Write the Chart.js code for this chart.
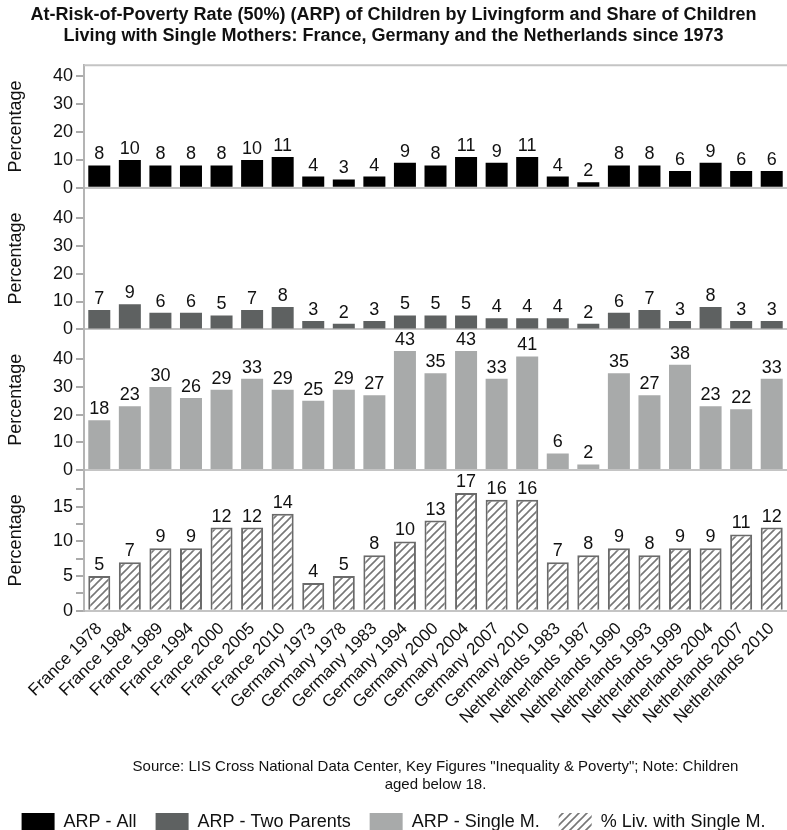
<!DOCTYPE html>
<html>
<head>
<meta charset="utf-8">
<script src="https://cdn.jsdelivr.net/npm/chart.js@4.4.1/dist/chart.umd.min.js"></script>
<style>
  body { margin: 0; background: #fff; }
  #wrap { width: 787px; height: 830px; }
</style>
</head>
<body>
<div id="wrap"><canvas id="myChart"></canvas></div>
<script>
'use strict';

const categories = [
  'France 1978', 'France 1984', 'France 1989', 'France 1994', 'France 2000', 'France 2005', 'France 2010',
  'Germany 1973', 'Germany 1978', 'Germany 1983', 'Germany 1994', 'Germany 2000', 'Germany 2004', 'Germany 2007', 'Germany 2010',
  'Netherlands 1983', 'Netherlands 1987', 'Netherlands 1990', 'Netherlands 1993', 'Netherlands 1999', 'Netherlands 2004', 'Netherlands 2007', 'Netherlands 2010'
];
const arpAll = [8, 10, 8, 8, 8, 10, 11, 4, 3, 4, 9, 8, 11, 9, 11, 4, 2, 8, 8, 6, 9, 6, 6];
const arpTwoParents = [7, 9, 6, 6, 5, 7, 8, 3, 2, 3, 5, 5, 5, 4, 4, 4, 2, 6, 7, 3, 8, 3, 3];
const arpSingleM = [18, 23, 30, 26, 29, 33, 29, 25, 29, 27, 43, 35, 43, 33, 41, 6, 2, 35, 27, 38, 23, 22, 33];
const shareSingleM = [5, 7, 9, 9, 12, 12, 14, 4, 5, 8, 10, 13, 17, 16, 16, 7, 8, 9, 8, 9, 9, 11, 12];
const arpTicks = [0, 10, 20, 30, 40];
const shareTicks = [0, 5, 10, 15];
const shareMinorTicks = [2.5, 7.5, 12.5, 17.5];

const fam = '"Liberation Sans", Arial, sans-serif';
const font = { family: fam, size: 18 };

function hatch() {
  const n = 8;
  const c = document.createElement('canvas');
  c.width = n;
  c.height = n;
  const g = c.getContext('2d');
  g.fillStyle = '#fff';
  g.fillRect(0, 0, n, n);
  g.strokeStyle = '#777';
  g.lineWidth = 1.6;
  g.beginPath();
  g.moveTo(0, n); g.lineTo(n, 0);
  g.moveTo(-1, 1); g.lineTo(1, -1);
  g.moveTo(n - 1, n + 1); g.lineTo(n + 1, n - 1);
  g.stroke();
  return g.createPattern(c, 'repeat');
}

function yAxis(max, weight, stackWeight, ticks, minor) {
  return {
    type: 'linear',
    position: 'left',
    stack: 'panels',
    stackWeight: stackWeight,
    weight: weight,
    min: 0,
    max: max,
    afterBuildTicks: s => { s.ticks = ticks.concat(minor || []).map(v => ({ value: v })); },
    afterFit: s => { s.width = 84; },
    ticks: {
      font: font, color: '#111', padding: 3, autoSkip: false,
      callback: v => ticks.includes(v) ? v : ''
    },
    grid: {
      drawOnChartArea: true,
      color: c => (c.tick && c.tick.value === 0) ? '#c4c4c4' : 'rgba(0,0,0,0)',
      tickColor: '#aaa',
      tickLength: 8,
      lineWidth: 2
    },
    border: { display: true, color: '#b4b4b4', width: 2 },
    title: { display: true, text: 'Percentage', font: font, color: '#111', padding: { top: 5, bottom: 0 } }
  };
}

// value above every bar
const valueLabels = {
  id: 'valueLabels',
  afterDatasetsDraw(chart) {
    const ctx = chart.ctx;
    ctx.save();
    ctx.font = '18px ' + fam;
    ctx.fillStyle = '#111';
    ctx.textAlign = 'center';
    ctx.textBaseline = 'bottom';
    chart.data.datasets.forEach((ds, i) => {
      chart.getDatasetMeta(i).data.forEach((bar, j) => {
        ctx.fillText(ds.data[j], bar.x, bar.y - 2);
      });
    });
    ctx.restore();
  }
};

const topLine = {
  id: 'topLine',
  beforeDatasetsDraw(chart) {
    const a = chart.chartArea;
    const ctx = chart.ctx;
    ctx.save();
    ctx.strokeStyle = '#c4c4c4';
    ctx.lineWidth = 2;
    ctx.beginPath();
    ctx.moveTo(a.left, a.top);
    ctx.lineTo(a.right, a.top);
    ctx.stroke();
    ctx.restore();
  }
};

const common = { grouped: false, barPercentage: 0.72, categoryPercentage: 1 };

const ctx = document.getElementById('myChart').getContext('2d');
const chart = new Chart(ctx, {
  type: 'bar',
  data: {
    labels: categories,
    datasets: [
      Object.assign({ label: 'ARP - All', data: arpAll, yAxisID: 'yAll', backgroundColor: '#000' }, common),
      Object.assign({ label: 'ARP - Two Parents', data: arpTwoParents, yAxisID: 'yTwo', backgroundColor: '#5e6161' }, common),
      Object.assign({ label: 'ARP - Single M.', data: arpSingleM, yAxisID: 'ySingle', backgroundColor: '#a8aaaa' }, common),
      Object.assign({ label: '% Liv. with Single M.', data: shareSingleM, yAxisID: 'yShare', backgroundColor: hatch(), borderColor: '#6a6a6a', borderWidth: 2 }, common)
    ]
  },
  plugins: [valueLabels, topLine],
  options: {
    responsive: true,
    maintainAspectRatio: false,
    animation: false,
    layout: { padding: { left: 0, right: 0, top: 0, bottom: -11 } },
    scales: {
      x: {
        type: 'category',
        grid: { display: false },
        border: { display: true, color: '#c4c4c4', width: 2 },
        ticks: { font: { family: fam, size: 17 }, color: '#111', maxRotation: 45, minRotation: 45, autoSkip: false, padding: 0 }
      },
      yAll: yAxis(44, 4, 122, arpTicks),
      yTwo: yAxis(50.8, 3, 141, arpTicks),
      ySingle: yAxis(50.8, 2, 140, arpTicks),
      yShare: yAxis(20.3, 1, 140, shareTicks, shareMinorTicks)
    },
    plugins: {
      title: {
        display: true,
        text: ['At-Risk-of-Poverty Rate (50%) (ARP) of Children by Livingform and Share of Children',
               'Living with Single Mothers: France, Germany and the Netherlands since 1973'],
        font: { family: fam, size: 18, weight: 'bold' },
        color: '#111',
        lineHeight: 1.1,
        padding: { top: 4, bottom: 18 }
      },
      subtitle: {
        display: true,
        position: 'bottom',
        weight: 500,
        fullSize: false,
        text: ['Source: LIS Cross National Data Center, Key Figures "Inequality & Poverty"; Note: Children',
               'aged below 18.'],
        font: { family: fam, size: 15 },
        color: '#111',
        lineHeight: 1.15,
        padding: { top: 30, bottom: 0 }
      },
      legend: {
        position: 'bottom',
        labels: {
          font: font,
          color: '#111',
          boxWidth: 33,
          boxHeight: 18,
          padding: 19,
          generateLabels: c => Chart.defaults.plugins.legend.labels.generateLabels(c).map(l => Object.assign(l, { lineWidth: 0 }))
        }
      },
      tooltip: { enabled: false }
    }
  }
});
</script>
</body>
</html>
